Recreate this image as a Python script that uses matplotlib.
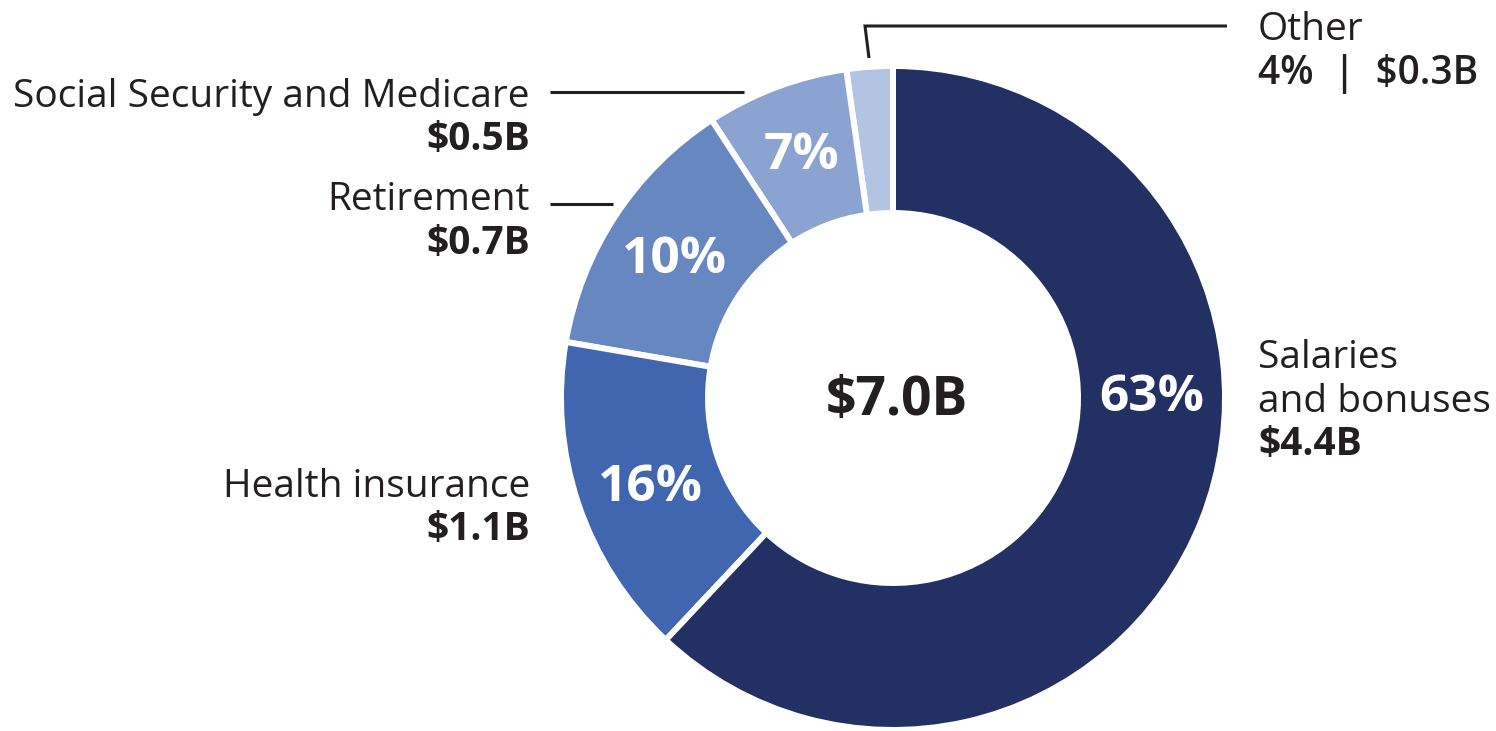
import numpy as np
import matplotlib.pyplot as plt

plt.rcParams['font.family'] = ['Open Sans', 'DejaVu Sans']

# slices drawn counterclockwise from 12 o'clock
categories = ['Other', 'Social Security and Medicare', 'Retirement',
              'Health insurance', 'Salaries and bonuses']
shares = [2.25, 6.95, 13.1, 15.7, 62.0]          # drawn share of ring (%)
pct_labels = ['4%', '7%', '10%', '16%', '63%']
dollars = ['$0.3B', '$0.5B', '$0.7B', '$1.1B', '$4.4B']
total = '$7.0B'
colors = ['#B3C3E2', '#8BA3D0', '#6787C1', '#4066B0', '#223063']

W, H = 1496, 731
TXT = '#231F20'

fig = plt.figure(figsize=(W / 100, H / 100), dpi=100)
ax = fig.add_axes([0, 0, 1, 1])

cx, cy = 893, H - 398
R, r_in = 332, 185
wedges, _ = ax.pie(shares, colors=colors, startangle=90, counterclock=True,
                   radius=R, center=(cx, cy),
                   wedgeprops=dict(width=R - r_in, edgecolor='white', linewidth=4.3))
ax.set_xlim(0, W)
ax.set_ylim(0, H)
ax.set_aspect('equal')
ax.axis('off')

# percent labels inside the ring (angle in degrees)
label_angles = [None, 110.7, 147.7, 200.4, 0.0]
rm = (R + r_in) / 2
for lab, ang in zip(pct_labels, label_angles):
    if ang is None:
        continue
    a = np.deg2rad(ang)
    ax.text(cx + rm * np.cos(a), cy + rm * np.sin(a), lab, color='white',
            fontsize=37, fontweight='bold', ha='center', va='center')

ax.text(cx + 4, cy - 3, total, color=TXT, fontsize=38.5, fontweight='bold',
        ha='center', va='center')

fs = 28
# left side labels
ax.text(530, H - 107, 'Social Security and Medicare', color=TXT, fontsize=fs,
        ha='right', va='baseline')
ax.text(530, H - 150, dollars[1], color=TXT, fontsize=fs, fontweight='bold',
        ha='right', va='baseline')
ax.text(530, H - 210, 'Retirement', color=TXT, fontsize=fs, ha='right', va='baseline')
ax.text(530, H - 254, dollars[2], color=TXT, fontsize=fs, fontweight='bold',
        ha='right', va='baseline')
ax.text(530, H - 497, 'Health insurance', color=TXT, fontsize=fs, ha='right',
        va='baseline')
ax.text(530, H - 540, dollars[3], color=TXT, fontsize=fs, fontweight='bold',
        ha='right', va='baseline')

# right side labels
ax.text(1258, H - 368, 'Salaries', color=TXT, fontsize=fs, ha='left', va='baseline')
ax.text(1258, H - 412, 'and bonuses', color=TXT, fontsize=fs, ha='left', va='baseline')
ax.text(1258, H - 455, dollars[4], color=TXT, fontsize=fs, fontweight='bold',
        ha='left', va='baseline')
ax.text(1258, H - 40, 'Other', color=TXT, fontsize=fs, ha='left', va='baseline')
ax.text(1258, H - 84, pct_labels[0] + '  |  ' + dollars[0], color=TXT, fontsize=fs,
        fontweight='semibold', ha='left', va='baseline')

# leader lines
lw = 2.2
ax.plot([550, 744], [H - 92, H - 92], color=TXT, lw=lw, solid_capstyle='butt')
ax.plot([550, 613], [H - 204, H - 204], color=TXT, lw=lw, solid_capstyle='butt')
ax.plot([1227, 865, 869], [H - 26, H - 26, H - 58], color=TXT, lw=lw,
        solid_capstyle='butt', solid_joinstyle='miter')

fig.savefig('out.png', dpi=100, facecolor='white')
